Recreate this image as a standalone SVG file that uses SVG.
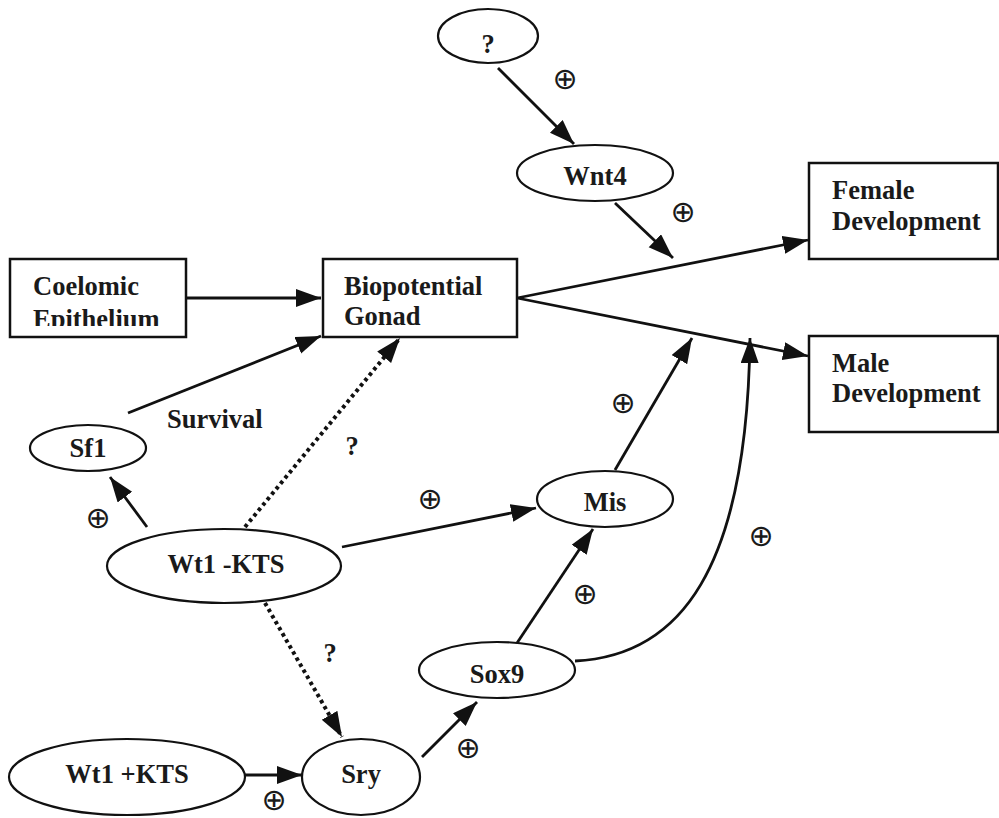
<svg xmlns="http://www.w3.org/2000/svg" width="999" height="818" viewBox="0 0 999 818">
<style>
.box{fill:#fff;stroke:#111;stroke-width:2.5}
.node{fill:#fff;stroke:#111;stroke-width:2.2}
.lbl{font-family:"Liberation Serif","Times New Roman",serif;font-weight:bold;font-size:26.5px;fill:#1a1a1a}
.mid{text-anchor:middle}
.edge{fill:none;stroke:#111;stroke-width:2.8}
.dot{fill:none;stroke:#111;stroke-width:4;stroke-dasharray:3.5 3.5}
.plus{font-family:"DejaVu Sans",sans-serif;font-size:30px;fill:#1a1a1a;text-anchor:middle}
</style>
<defs>
<marker id="ah" markerUnits="userSpaceOnUse" markerWidth="27" markerHeight="20" refX="25" refY="9" orient="auto">
<path d="M0,0 L25,9 L0,18 Z" fill="#111"/>
</marker>
<clipPath id="clipCE"><rect x="0" y="250" width="200" height="76"/></clipPath>
</defs>
<rect width="999" height="818" fill="#fff"/>
<g id="connectors">
<line class="edge" x1="186" y1="298" x2="321" y2="298" marker-end="url(#ah)"/>
<line class="edge" x1="128" y1="413" x2="321" y2="336" marker-end="url(#ah)"/>
<line class="edge" x1="498" y1="68" x2="574" y2="144" marker-end="url(#ah)"/>
<line class="edge" x1="615" y1="203" x2="673" y2="258" marker-end="url(#ah)"/>
<line class="edge" x1="517" y1="298" x2="808" y2="240" marker-end="url(#ah)"/>
<line class="edge" x1="517" y1="298" x2="808" y2="356" marker-end="url(#ah)"/>
<line class="edge" x1="147" y1="527" x2="110" y2="477" marker-end="url(#ah)"/>
<line class="dot" x1="245" y1="527" x2="400" y2="338" marker-end="url(#ah)"/>
<line class="edge" x1="342" y1="547" x2="536" y2="508" marker-end="url(#ah)"/>
<line class="edge" x1="615" y1="470" x2="692" y2="338" marker-end="url(#ah)"/>
<line class="dot" x1="265" y1="603" x2="342" y2="737" marker-end="url(#ah)"/>
<line class="edge" x1="245" y1="775" x2="302" y2="775" marker-end="url(#ah)"/>
<line class="edge" x1="422" y1="757" x2="477" y2="702" marker-end="url(#ah)"/>
<line class="edge" x1="517" y1="643" x2="593" y2="529" marker-end="url(#ah)"/>
<path class="edge" d="M575,661 C680,656 747,570 750,338" marker-end="url(#ah)"/>
</g>
<g id="coelomic">
<rect class="box" x="10" y="259" width="176" height="78"/>
<text class="lbl" x="33" y="295">Coelomic</text>
<text class="lbl" x="33" y="328" clip-path="url(#clipCE)">Epithelium</text>
</g>
<g id="biopotential">
<rect class="box" x="323" y="259" width="194" height="78"/>
<text class="lbl" x="344" y="295">Biopotential</text>
<text class="lbl" x="344" y="325">Gonad</text>
</g>
<g id="female">
<rect class="box" x="809" y="163" width="189" height="96"/>
<text class="lbl" x="832" y="199">Female</text>
<text class="lbl" x="832" y="230">Development</text>
</g>
<g id="male">
<rect class="box" x="809" y="336" width="189" height="96"/>
<text class="lbl" x="832" y="372">Male</text>
<text class="lbl" x="832" y="402">Development</text>
</g>
<g id="unknown">
<ellipse class="node" cx="488" cy="36" rx="50" ry="27"/>
<text class="lbl mid" x="488" y="53">?</text>
</g>
<g id="wnt4">
<ellipse class="node" cx="595" cy="173" rx="78" ry="28"/>
<text class="lbl mid" x="595" y="185">Wnt4</text>
</g>
<g id="sf1">
<ellipse class="node" cx="88" cy="448" rx="58" ry="23"/>
<text class="lbl mid" x="88" y="457">Sf1</text>
</g>
<g id="wt1-kts">
<ellipse class="node" cx="224" cy="566" rx="117" ry="37"/>
<text class="lbl mid" x="226" y="573">Wt1 -KTS</text>
</g>
<g id="mis">
<ellipse class="node" cx="605" cy="499" rx="68" ry="28"/>
<text class="lbl mid" x="605" y="511">Mis</text>
</g>
<g id="sox9">
<ellipse class="node" cx="497" cy="670" rx="78" ry="28"/>
<text class="lbl mid" x="497" y="683">Sox9</text>
</g>
<g id="sry">
<ellipse class="node" cx="361" cy="777" rx="59" ry="38"/>
<text class="lbl mid" x="361" y="783">Sry</text>
</g>
<g id="wt1-plus-kts">
<ellipse class="node" cx="127" cy="777" rx="118" ry="38"/>
<text class="lbl mid" x="127" y="783">Wt1 +KTS</text>
</g>
<g id="labels">
<text class="lbl" x="167" y="428">Survival</text>
<text class="lbl mid" x="352" y="455">?</text>
<text class="lbl mid" x="330" y="662">?</text>
<text class="plus" x="565" y="89">⊕</text>
<text class="plus" x="683" y="222">⊕</text>
<text class="plus" x="98" y="528">⊕</text>
<text class="plus" x="430" y="509">⊕</text>
<text class="plus" x="623" y="413">⊕</text>
<text class="plus" x="585" y="604">⊕</text>
<text class="plus" x="761" y="546">⊕</text>
<text class="plus" x="468" y="758">⊕</text>
<text class="plus" x="274" y="810">⊕</text>
</g>
</svg>
